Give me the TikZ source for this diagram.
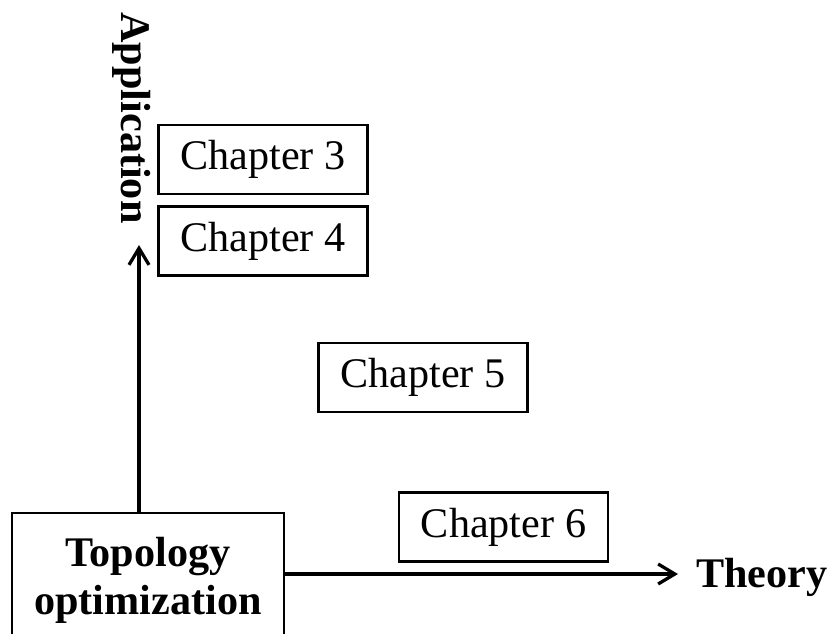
\documentclass[tikz,border=0pt]{standalone}
\usepackage{fontspec}
\setmainfont{Liberation Serif}
\usetikzlibrary{arrows.meta,positioning}

\begin{document}
\begin{tikzpicture}[
    x=0.03cm, y=-0.03cm,
    every node/.style={font=\fontsize{36}{41}\selectfont},
    chapbox/.style={
        rectangle, draw=black, line width=1.8pt,
        minimum width=6.27cm, minimum height=2.07cm, inner sep=0pt
    },
    axislabel/.style={font=\fontsize{36}{41}\selectfont\bfseries, inner sep=0pt},
    axisarrow/.style={line width=2.8pt, -{Straight Barb[length=0.5cm, width=0.6cm, line width=2.8pt]}}
]
% --- page frame (reference size 834 x 633)
\useasboundingbox (0,0) rectangle (834,633);

% --- start box (cut by the lower page edge)
\node [rectangle, draw=black, line width=1.8pt, minimum width=8.16cm,
       minimum height=4.02cm, inner sep=0pt, align=center,
       font=\fontsize{36}{41}\selectfont\bfseries]
      (topo) at (148,580) {Topology\\optimization};

% --- chapters
\node [chapbox] (ch3) at (263,159.5) {Chapter 3};
\node [chapbox] (ch4) at (263,241)   {Chapter 4};
\node [chapbox] (ch5) at (423,377.5) {Chapter 5};
\node [chapbox] (ch6) at (503.5,527) {Chapter 6};

% --- axes
\coordinate (apptip) at (139,245);
\coordinate (thtip)  at (678,574);
\draw [axisarrow] (topo.north -| apptip) -- (apptip);
\draw [axisarrow] (topo.east |- thtip) -- (thtip);

% --- axis titles
\node [axislabel, rotate=-90] (app) at (132,118) {Application};
\node [axislabel] (theory) at (762,577.5) {Theory};
\end{tikzpicture}
\end{document}
